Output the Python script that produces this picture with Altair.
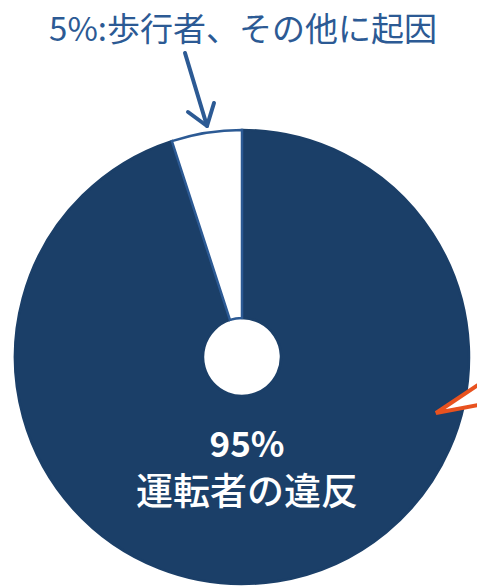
import altair as alt
import pandas as pd

# Pie data
categories = ["運転者の違反", "歩行者、その他に起因"]
values = [95, 5]
order = [1, 2]
fills = ["#1b3f68", "#ffffff"]
strokes = ["#1b3f68", "#2c5a94"]

# Texts
top_label = "5%:歩行者、その他に起因"
center_pct = "95%"
center_label = "運転者の違反"

# Annotation arrows (pixel space)
blue_arrow_seg = [0, 0, 1, 1, 1]
blue_arrow_x = [185, 207, 188, 207, 214]
blue_arrow_y = [53, 126, 112, 126, 103]
orange_x = [436, 484]
orange_y_top = [413, 381]
orange_y_bot = [413, 404]

W, H = 477, 586
CX, CY = 242, 357

pie_df = pd.DataFrame({"cat": categories, "value": values, "ord": order})

arc = alt.Chart(pie_df).mark_arc(outerRadius=227, innerRadius=39, strokeWidth=2.5).encode(
    theta=alt.Theta("value:Q", stack=True),
    order=alt.Order("ord:Q"),
    color=alt.Color("cat:N", scale=alt.Scale(domain=categories, range=fills), legend=None),
    stroke=alt.Stroke("cat:N", scale=alt.Scale(domain=categories, range=strokes), legend=None),
    x=alt.value(CX),
    y=alt.value(CY),
)

font = "Noto Sans CJK JP"

top_text = alt.Chart(pd.DataFrame({"t": [top_label]})).mark_text(
    font=font, fontSize=33, color="#2c5a94", align="center", baseline="middle"
).encode(text="t:N", x=alt.value(243), y=alt.value(31))

pct_text = alt.Chart(pd.DataFrame({"t": [center_pct]})).mark_text(
    font=font, fontSize=35, fontWeight="bold", color="#ffffff", align="center", baseline="middle"
).encode(text="t:N", x=alt.value(247), y=alt.value(446))

lbl_text = alt.Chart(pd.DataFrame({"t": [center_label]})).mark_text(
    font=font, fontSize=37, fontWeight=500, color="#ffffff", align="center", baseline="middle"
).encode(text="t:N", x=alt.value(247), y=alt.value(494))

arrow_df = pd.DataFrame({
    "seg": blue_arrow_seg, "x": blue_arrow_x, "y": blue_arrow_y,
    "o": list(range(len(blue_arrow_x)))
})
blue_arrow = alt.Chart(arrow_df).mark_line(
    color="#2c5a94", strokeWidth=4, strokeCap="round", strokeJoin="round"
).encode(
    x=alt.X("x:Q", scale=None, axis=None),
    y=alt.Y("y:Q", scale=None, axis=None),
    detail="seg:N",
    order="o:Q",
)

orange_df = pd.DataFrame({"x": orange_x, "y": orange_y_top, "y2": orange_y_bot})
orange_fill = alt.Chart(orange_df).mark_area(
    color="#ffffff", stroke="#e8521f", strokeWidth=4, strokeJoin="miter", opacity=1
).encode(
    x=alt.X("x:Q", scale=None, axis=None),
    y=alt.Y("y:Q", scale=None, axis=None),
    y2="y2:Q",
)

chart = alt.layer(arc, blue_arrow, orange_fill, top_text, pct_text, lbl_text).properties(
    width=W, height=H, padding=0, autosize=alt.AutoSizeParams(type="none")
).configure_view(stroke=None)

chart.save("out.html", embed_options={"renderer": "svg", "actions": False})
